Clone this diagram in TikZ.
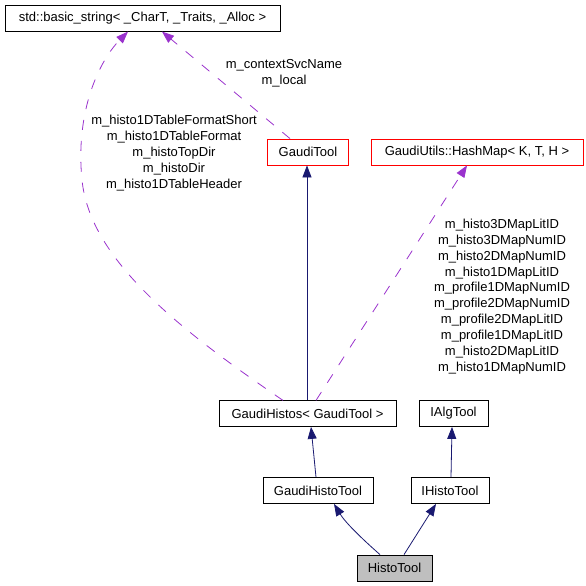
\documentclass[tikz,border=0pt]{standalone}
\usepackage{fontspec}
\setmainfont{Liberation Sans}
\usetikzlibrary{arrows.meta}
\definecolor{edgeblue}{HTML}{191970}
\definecolor{edgepurple}{HTML}{9A32CD}
\definecolor{boxgrey}{HTML}{BFBFBF}
\tikzset{
  cls/.style={draw=black, line width=0.8pt, inner sep=0pt, minimum height=26pt, font=\fontsize{13}{15}\selectfont},
  redcls/.style={cls, draw=red},
  inherit/.style={draw=edgeblue, line width=0.8pt, -{Triangle[length=12pt,width=9pt]}, edgeblue},
  usage/.style={draw=edgepurple, line width=0.8pt, dash pattern=on 10pt off 11pt, -{Triangle[length=12pt,width=9pt,fill=edgepurple]}},
  lbl/.style={align=center, font=\fontsize{13}{15.9}\selectfont, inner sep=0pt}
}
\begin{document}
\begin{tikzpicture}[x=1pt,y=-1pt]
\useasboundingbox (0,0) rectangle (586,586);
\node[cls, minimum width=275pt] (str) at (142.5,18.5) {std::basic\_string< \_CharT, \_Traits, \_Alloc >};
\node[redcls, minimum width=81pt] (gt) at (308,152) {GaudiTool};
\node[redcls, minimum width=212pt] (hm) at (477,152) {GaudiUtils::HashMap< K, T, H >};
\node[cls, minimum width=177pt] (gh) at (307.5,413.5) {GaudiHistos< GaudiTool >};
\node[cls, minimum width=69pt] (iat) at (453.5,413.5) {IAlgTool};
\node[cls, minimum width=110pt] (ght) at (318,490.5) {GaudiHistoTool};
\node[cls, minimum width=78pt] (iht) at (450,490.5) {IHistoTool};
\node[cls, fill=boxgrey, minimum width=75pt] (ht) at (394.5,568) {HistoTool};

\coordinate (ghL) at (283,400.4);
\coordinate (ghM) at (307,400.4);
\coordinate (ghR) at (316,400.4);
\coordinate (strL) at (128,31.6);
\coordinate (strR) at (162,31.6);
\coordinate (gtB) at (307,165.4);
\coordinate (gtT) at (290,138.6);
\coordinate (hmB) at (467,165.4);
\coordinate (bend) at (82,180);

\draw[inherit] (ghM) -- (gtB);
\draw[inherit] (ght.north -| 316,0) -- (gh.south -| 311,0);
\draw[inherit] (iht.north -| 451,0) -- (iat.south -| 452,0);
\draw[inherit] (ht.north -| 380,0) .. controls (360,537) and (345,522) .. (ght.south -| 334,0);
\draw[inherit] (ht.north -| 404,0) -- (iht.south -| 436,0);

\draw[usage] (ghL) .. controls (180,330) and (90,260) .. (bend) .. controls (75,110) and (100,60) .. (strL);
\draw[usage] (gtT) -- (strR);
\draw[usage] (ghR) -- (hmB);

\node[lbl] (l1) at (174,153) {m\_histo1DTableFormatShort\\m\_histo1DTableFormat\\m\_histoTopDir\\m\_histoDir\\m\_histo1DTableHeader};
\node[lbl] (l2) at (284,73) {m\_contextSvcName\\m\_local};
\node[lbl] (l3) at (502,296.5) {m\_histo3DMapLitID\\m\_histo3DMapNumID\\m\_histo2DMapNumID\\m\_histo1DMapLitID\\m\_profile1DMapNumID\\m\_profile2DMapNumID\\m\_profile2DMapLitID\\m\_profile1DMapLitID\\m\_histo2DMapLitID\\m\_histo1DMapNumID};
\end{tikzpicture}
\end{document}
